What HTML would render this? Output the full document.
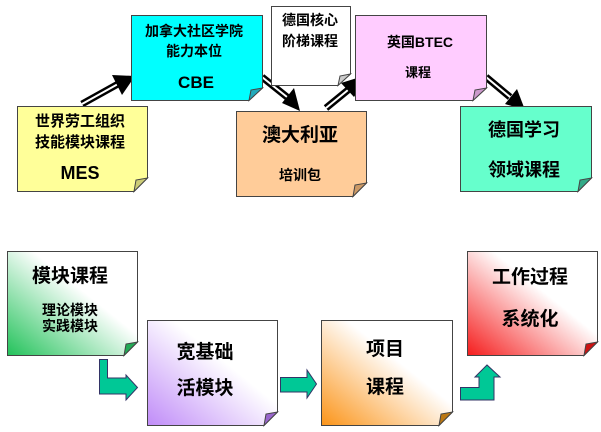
<!DOCTYPE html>
<html><head><meta charset="utf-8"><style>
body{margin:0;background:#fff}
svg{display:block}
text{font-family:"Liberation Sans","Noto Sans CJK SC","WenQuanYi Zen Hei",sans-serif;font-weight:bold;fill:#000;text-anchor:middle}
</style></head><body>
<svg width="601" height="432" viewBox="0 0 601 432" xmlns="http://www.w3.org/2000/svg">
<defs>
<linearGradient id="gG" x1="0" y1="1" x2="1" y2="0"><stop offset="0" stop-color="#22c25a"/><stop offset="0.6" stop-color="#fff"/></linearGradient>
<linearGradient id="gP" x1="0" y1="1" x2="1" y2="0"><stop offset="0" stop-color="#c08cf8"/><stop offset="0.6" stop-color="#fff"/></linearGradient>
<linearGradient id="gO" x1="0" y1="1" x2="1" y2="0"><stop offset="0" stop-color="#fb9418"/><stop offset="0.6" stop-color="#fff"/></linearGradient>
<linearGradient id="gR" x1="0" y1="1" x2="1" y2="0"><stop offset="0" stop-color="#f51c1c"/><stop offset="0.6" stop-color="#fff"/></linearGradient>
</defs>
<!-- double-line arrows -->
<g stroke="#000" stroke-width="7"><line x1="82" y1="104" x2="118" y2="84"/><line x1="262" y1="77" x2="287" y2="97"/><line x1="326" y1="108" x2="348" y2="90"/><line x1="486" y1="77" x2="510" y2="97"/></g>
<g stroke="#fff" stroke-width="2"><line x1="82" y1="104" x2="118" y2="84"/><line x1="262" y1="77" x2="287" y2="97"/><line x1="326" y1="108" x2="348" y2="90"/><line x1="486" y1="77" x2="510" y2="97"/></g>
<polygon points="135,76 112,75 122,95" fill="#000"/>
<polygon points="300,111 282,103 294,88" fill="#000"/>
<polygon points="370,74 341,83 354,97" fill="#000"/>
<polygon points="525,110 505,104 517,89" fill="#000"/>

<!-- top boxes -->
<g stroke="#444" stroke-width="1">
<path d="M17.5,106.5H147.5V178L134,191.5H17.5Z" fill="#ffff99"/><path d="M134,191.5L136,180L147.5,178Z" fill="#cccc77"/>
<path d="M131.5,15.5H262.5V88L249,100.5H131.5Z" fill="#00ffff"/><path d="M249,100.5L251,90L262.5,88Z" fill="#22aabb"/>
<path d="M271.5,6.5H350.5V74L338,85.5H271.5Z" fill="#fff"/><path d="M338,85.5L340,76L350.5,74Z" fill="#ccc"/>
<path d="M236.5,111.5H366.5V183L353,196.5H236.5Z" fill="#ffcc99"/><path d="M353,196.5L355,185L366.5,183Z" fill="#cc9966"/>
<path d="M355.5,15.5H486.5V88L473,100.5H355.5Z" fill="#ffccff"/><path d="M473,100.5L475,90L486.5,88Z" fill="#cc99cc"/>
<path d="M460.5,106.5H591.5V178L578,191.5H460.5Z" fill="#66ffcc"/><path d="M578,191.5L580,180L591.5,178Z" fill="#33aa88"/>
</g>
<text x="80" y="126" font-size="15">世界劳工组织</text>
<text x="80" y="147" font-size="15">技能模块课程</text>
<text x="80" y="179" font-size="18">MES</text>
<text x="194" y="36" font-size="14">加拿大社区学院</text>
<text x="194" y="56" font-size="14">能力本位</text>
<text x="196" y="88" font-size="17">CBE</text>
<text x="310" y="25" font-size="14">德国核心</text>
<text x="310" y="46" font-size="14">阶梯课程</text>
<text x="300" y="141" font-size="19">澳大利亚</text>
<text x="300" y="180" font-size="14">培训包</text>
<text x="420" y="47" font-size="14">英国BTEC</text>
<text x="418" y="77" font-size="13">课程</text>
<text x="524" y="136" font-size="18">德国学习</text>
<text x="524" y="176" font-size="18">领域课程</text>

<!-- bottom boxes -->
<g stroke="#444" stroke-width="1">
<path d="M7.5,251.5H137.5V342L124,355.5H7.5Z" fill="url(#gG)"/><path d="M124,355.5L126,344L137.5,342Z" fill="#22aa55"/>
<path d="M147.5,320.5H277.5V412L264,425.5H147.5Z" fill="url(#gP)"/><path d="M264,425.5L266,414L277.5,412Z" fill="#9966cc"/>
<path d="M321.5,320.5H452.5V412L439,425.5H321.5Z" fill="url(#gO)"/><path d="M439,425.5L441,414L452.5,412Z" fill="#bb7711"/>
<path d="M467.5,251.5H597.5V342L584,355.5H467.5Z" fill="url(#gR)"/><path d="M584,355.5L586,344L597.5,342Z" fill="#cc1111"/>
</g>
<text x="70" y="282" font-size="19">模块课程</text>
<text x="70" y="315" font-size="14">理论模块</text>
<text x="70" y="331" font-size="14">实践模块</text>
<text x="205" y="358" font-size="19">宽基础</text>
<text x="205" y="394" font-size="19">活模块</text>
<text x="385" y="355" font-size="19">项目</text>
<text x="385" y="393" font-size="19">课程</text>
<text x="530" y="283" font-size="19">工作过程</text>
<text x="530" y="325" font-size="19">系统化</text>

<!-- block arrows -->
<g fill="#00c896" stroke="#336" stroke-width="1">
<path d="M99.5,359.5H107.5V378H126V375L137.5,387.5L126,400V394H99.5Z"/>
<path d="M280.5,377.5H307V370L316.5,384L307,398V392H280.5Z"/>
<path d="M460.5,387.5H479V377H475L487,365L500,377H494V400H460.5Z"/>
</g>
</svg>
</body></html>
